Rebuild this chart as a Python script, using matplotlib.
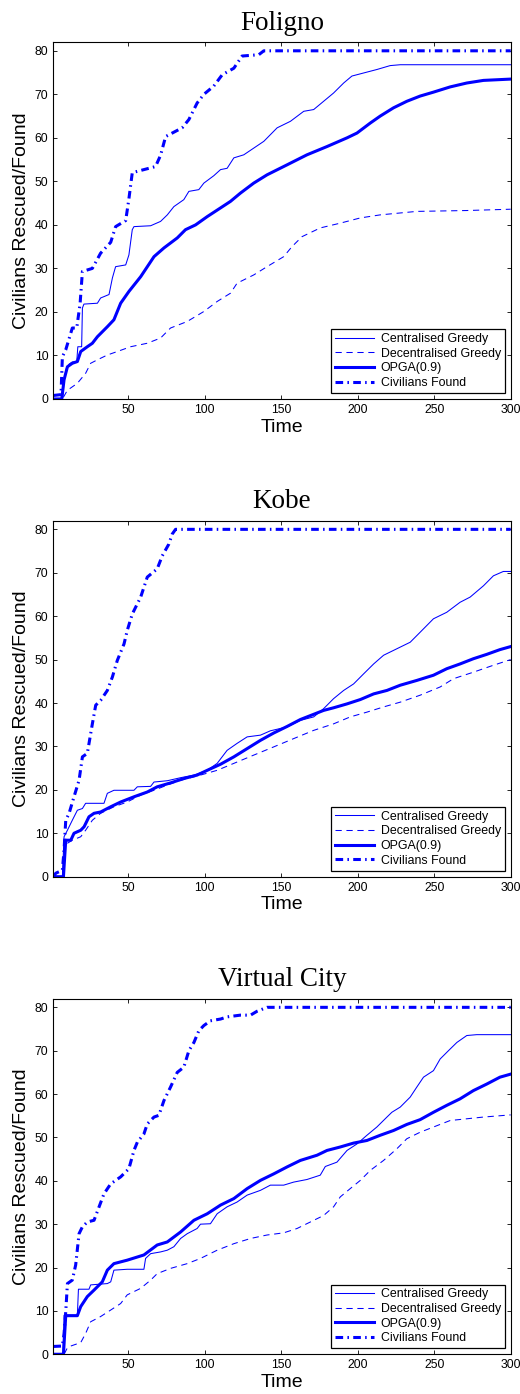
import matplotlib
matplotlib.use("Agg")
import matplotlib.pyplot as plt

# -----------------------
# Data
# -----------------------

panel_titles = ["Foligno", "Kobe", "Virtual City"]
series_labels = ["Centralised Greedy", "Decentralised Greedy", "OPGA(0.9)", "Civilians Found"]
x_ticks = [50, 100, 150, 200, 250, 300]
y_ticks = [0, 10, 20, 30, 40, 50, 60, 70, 80]

# Foligno
cg_foligno_t = [1, 6.9, 8.0, 9.5, 11.3, 13.4, 16.3, 17.0, 19.5, 20.0, 21.0, 29.8, 31.9, 37.4, 39.6, 41.7, 48.3, 50.4,
                52.6, 53.7, 64.6, 71.1, 75.5, 79.8, 86.3, 89.6, 96.1, 99.4, 105.9, 110.3, 114.6, 119.0, 125.5,
                138.6, 147.3, 156.0, 164.7, 171.2, 177.7, 184.2, 190.8, 196.2, 203.8, 212.5, 221.2, 227.8, 300]
cg_foligno_v = [0, 0, 4.4, 7.0, 8.0, 8.5, 8.6, 12.0, 12.0, 20.9, 21.8, 22.0, 23.2, 24.0, 27.8, 30.4, 30.8, 33.1,
                38.9, 39.6, 39.8, 40.8, 42.3, 44.2, 45.8, 47.7, 48.1, 49.6, 51.3, 52.7, 53.0, 55.4, 56.1,
                59.2, 62.3, 63.8, 66.1, 66.5, 68.4, 70.3, 72.6, 74.2, 74.9, 75.7, 76.6, 76.8, 76.8]
dg_foligno_t = [1, 6.9, 10.2, 16.7, 22.1, 25.4, 29.8, 36.3, 42.8, 51.5, 62.4, 71.1, 77.6, 88.5, 99.4, 108.1,
                116.8, 121.1, 132.0, 140.7, 151.6, 157.0, 163.6, 175.5, 188.6, 201.7, 214.7, 238.6, 271.3, 300]
dg_foligno_v = [0, 0, 2.0, 3.6, 5.9, 8.2, 9.0, 10.1, 10.9, 12.0, 12.8, 14.0, 16.3, 17.8, 20.1, 22.4,
                24.3, 26.6, 28.5, 30.4, 32.7, 35.0, 37.3, 39.3, 40.4, 41.6, 42.3, 43.1, 43.3, 43.6]
opga_foligno_t = [1, 6.5, 8.0, 10.2, 13.4, 16.7, 18.9, 23.2, 26.5, 29.8, 36.3, 40.6, 45.0, 50.4, 58.1, 66.8,
                  73.3, 82.0, 87.4, 94.0, 101.6, 110.3, 116.8, 123.3, 132.0, 140.7, 153.8, 166.8, 179.9, 193.0,
                  199.5, 208.2, 214.7, 223.4, 232.1, 240.8, 249.5, 260.4, 271.3, 282.2, 300]
opga_foligno_v = [0, 0, 4.4, 7.4, 8.2, 8.6, 10.9, 12.0, 12.8, 14.3, 16.6, 18.2, 22.0, 24.7, 28.1, 32.7,
                  34.7, 37.0, 38.9, 40.0, 41.9, 43.9, 45.4, 47.3, 49.6, 51.5, 53.8, 56.1, 58.0, 60.0,
                  61.1, 63.4, 65.0, 66.9, 68.4, 69.6, 70.5, 71.7, 72.6, 73.2, 73.5]
found_foligno_t = [1, 6.0, 6.9, 9.1, 13.4, 16.3, 18.5, 20.0, 26.5, 31.9, 38.5, 41.7, 48.3, 50.4, 52.6, 67.8,
                   71.1, 74.4, 85.2, 89.6, 95.0, 99.4, 105.9, 111.4, 119.0, 124.4, 135.3, 138.6, 300]
found_foligno_v = [0.8, 1.0, 9.7, 11.3, 16.3, 16.3, 22.0, 29.3, 30.0, 33.5, 36.0, 39.6, 41.0, 46.0, 52.0, 53.4,
                   56.0, 60.3, 62.3, 64.2, 68.0, 70.0, 71.9, 74.5, 76.0, 78.8, 79.1, 80, 80]

# Kobe
cg_kobe_t = [1, 6.9, 8.0, 10.2, 13.4, 16.7, 20.0, 22.1, 34.1, 36.3, 40.6, 53.7, 55.9, 64.6, 66.8, 75.5, 84.2,
             92.9, 101.6, 108.1, 114.6, 121.1, 127.7, 136.4, 142.9, 153.8, 162.5, 171.2, 177.7, 184.2, 190.8,
             197.3, 203.8, 210.4, 216.9, 225.6, 234.3, 240.8, 249.5, 258.2, 266.9, 273.5, 282.2, 288.7, 295.2, 300]
cg_kobe_v = [0, 0, 9.2, 10.7, 13.0, 15.3, 15.7, 16.9, 16.9, 19.2, 19.9, 19.9, 20.7, 20.8, 21.8, 22.1, 22.8,
             23.4, 24.5, 26.1, 29.1, 30.7, 32.2, 32.6, 33.6, 34.5, 36.0, 36.8, 38.7, 41.0, 42.9,
             44.4, 46.7, 49.0, 51.0, 52.5, 54.0, 56.3, 59.4, 60.9, 63.2, 64.4, 67.0, 69.3, 70.3, 70.3]
dg_kobe_t = [1, 6.9, 8.0, 10.2, 13.4, 18.9, 22.1, 26.5, 31.9, 40.6, 49.3, 58.1, 66.8, 75.5, 84.2, 97.2, 108.1,
             119.0, 132.0, 145.1, 158.1, 171.2, 184.2, 195.1, 206.0, 216.9, 227.8, 240.8, 253.9, 262.6, 275.6,
             288.7, 300]
dg_kobe_v = [0, 0, 6.9, 7.7, 8.4, 9.2, 10.7, 13.0, 14.6, 16.1, 17.2, 18.8, 19.9, 21.1, 22.2, 23.4, 24.5,
             26.1, 28.0, 29.9, 31.8, 33.7, 35.2, 36.8, 37.9, 39.1, 40.2, 41.8, 43.7, 45.6, 47.1,
             48.7, 50.0]
opga_kobe_t = [1, 7.6, 9.1, 12.4, 14.5, 18.9, 21.1, 24.3, 27.6, 31.9, 38.5, 45.0, 53.7, 62.4, 68.9, 77.6, 86.3,
               95.0, 101.6, 110.3, 119.0, 127.7, 136.4, 145.1, 153.8, 162.5, 171.2, 177.7, 184.2, 193.0, 201.7,
               210.4, 219.1, 227.8, 238.6, 249.5, 258.2, 266.9, 275.6, 284.3, 293.0, 300]
opga_kobe_v = [0, 0, 8.4, 8.4, 10.0, 10.7, 11.5, 13.8, 14.6, 14.9, 16.1, 17.2, 18.4, 19.5, 20.7, 21.6, 22.6,
               23.4, 24.5, 25.9, 27.6, 29.5, 31.4, 33.1, 34.6, 36.2, 37.4, 38.3, 38.9, 39.8, 40.8,
               42.1, 42.9, 44.1, 45.2, 46.4, 47.9, 49.0, 50.2, 51.2, 52.3, 53.0]
found_kobe_t = [1, 2.6, 6.9, 8.0, 9.1, 11.3, 14.5, 17.8, 20.0, 23.2, 26.5, 28.7, 31.9, 36.3, 39.6, 42.8, 47.2,
                49.3, 52.6, 58.1, 62.4, 68.9, 72.2, 76.5, 78.7, 80.9, 300]
found_kobe_v = [0, 0.8, 1.5, 6.1, 13.0, 14.6, 18.4, 22.2, 27.6, 28.4, 35.2, 39.5, 40.6, 42.9, 46.0, 49.8, 53.6,
                56.7, 60.5, 64.4, 69.0, 70.9, 73.9, 76.6, 78.9, 80, 80]

# Virtual City
cg_vc_t = [1, 7.3, 8.0, 16.7, 17.4, 24.3, 25.4, 36.3, 38.5, 40.6, 49.3, 60.2, 61.3, 64.6, 71.1, 75.5, 79.8,
           84.2, 88.5, 95.0, 97.2, 103.7, 108.1, 114.6, 121.1, 127.7, 136.4, 142.9, 151.6, 158.1, 166.8, 175.5,
           178.8, 186.4, 193.0, 199.5, 206.0, 212.5, 219.1, 222.3, 227.8, 234.3, 238.6, 243.0, 249.5, 253.9,
           259.3, 264.8, 271.3, 277.8, 300]
cg_vc_v = [0, 0, 9.0, 9.0, 15.0, 15.0, 16.0, 16.3, 16.7, 19.4, 19.6, 19.6, 22.1, 23.2, 23.6, 24.0, 24.8,
           26.7, 27.8, 29.0, 30.0, 30.1, 32.4, 34.0, 35.1, 36.7, 37.8, 39.0, 39.0, 39.7, 40.3, 41.3,
           43.3, 44.3, 47.0, 48.5, 50.5, 52.4, 54.7, 55.8, 57.0, 59.3, 61.6, 63.9, 65.4, 68.1,
           70.0, 71.9, 73.5, 73.7, 73.7]
dg_vc_t = [1, 8.0, 10.2, 12.4, 18.9, 22.1, 25.4, 31.9, 38.5, 45.0, 49.3, 58.1, 64.6, 68.9, 77.6, 88.5, 97.2,
           108.1, 119.0, 129.9, 140.7, 151.6, 160.3, 169.0, 177.7, 184.2, 188.6, 195.1, 201.7, 208.2, 216.9,
           225.6, 232.1, 240.8, 249.5, 260.4, 271.3, 282.2, 300]
dg_vc_v = [0, 0, 1.5, 1.9, 2.7, 4.8, 7.5, 8.7, 10.2, 11.7, 13.7, 15.2, 17.1, 18.6, 19.8, 20.9, 22.1,
           24.0, 25.5, 26.7, 27.5, 28.0, 29.0, 30.5, 32.0, 34.0, 36.3, 38.2, 40.1, 42.4, 44.7,
           47.4, 49.7, 51.2, 52.4, 53.9, 54.3, 54.7, 55.2]
opga_vc_t = [1, 7.6, 9.1, 16.7, 18.9, 23.2, 27.6, 33.0, 36.3, 40.6, 49.3, 60.2, 68.9, 75.5, 84.2, 92.9, 101.6,
             110.3, 119.0, 127.7, 136.4, 145.1, 153.8, 162.5, 173.4, 179.9, 188.6, 197.3, 206.0, 214.7, 223.4,
             232.1, 240.8, 249.5, 258.2, 266.9, 275.6, 284.3, 293.0, 300]
opga_vc_v = [0, 0, 8.9, 8.9, 11.0, 13.3, 14.8, 16.7, 19.4, 20.9, 21.7, 22.9, 25.2, 25.9, 28.2, 30.9, 32.4,
             34.4, 35.9, 38.2, 40.1, 41.6, 43.2, 44.7, 45.9, 47.0, 47.8, 48.7, 49.3, 50.5, 51.6,
             53.0, 54.1, 55.8, 57.4, 58.9, 60.8, 62.3, 63.9, 64.6]
found_vc_t = [1, 6.9, 8.0, 9.1, 10.2, 13.4, 15.6, 17.8, 20.0, 23.2, 27.6, 30.9, 34.1, 38.5, 45.0, 50.4, 53.7,
              55.9, 60.2, 62.4, 66.8, 70.0, 73.3, 77.6, 82.0, 86.3, 89.6, 92.9, 96.1, 99.4, 103.7, 110.3,
              114.6, 123.3, 129.9, 134.2, 140.7, 300]
found_vc_v = [1.8, 1.9, 4.8, 9.8, 16.3, 17.1, 20.6, 27.8, 29.4, 30.5, 30.9, 34.0, 37.0, 39.3, 40.9, 42.8, 47.0,
              48.9, 50.8, 53.1, 54.7, 55.1, 58.5, 61.6, 65.0, 66.2, 70.0, 71.9, 74.6, 75.8, 76.9, 77.3,
              77.8, 78.2, 78.2, 79.1, 80, 80]

# -----------------------
# Plotting
# -----------------------

BLUE = "#0000ff"
SANS = "Liberation Sans"
SERIF = "Liberation Serif"

plt.rcParams["font.family"] = [SANS, "DejaVu Sans"]


def draw_panel(ax, title, series):
    (cg_t, cg_v), (dg_t, dg_v), (op_t, op_v), (fd_t, fd_v) = series
    ax.plot(cg_t, cg_v, color=BLUE, lw=0.75, label=series_labels[0])
    ax.plot(dg_t, dg_v, color=BLUE, lw=0.75, dashes=(6, 4.5), label=series_labels[1])
    ax.plot(op_t, op_v, color=BLUE, lw=2.2, label=series_labels[2])
    ax.plot(fd_t, fd_v, color=BLUE, lw=2.2, dashes=(2.5, 1.4, 0.5, 1.4), label=series_labels[3])

    ax.set_xlim(1, 300)
    ax.set_ylim(0, 82)
    ax.set_xticks(x_ticks)
    ax.set_yticks(y_ticks)
    ax.tick_params(direction="in", length=3, width=0.6, labelsize=8.8, top=True, right=True,
                   colors="black", pad=3.5)
    for sp in ax.spines.values():
        sp.set_linewidth(0.8)

    ax.set_title(title, family=SERIF, fontsize=19.5, pad=9)
    ax.set_xlabel("Time", fontsize=14, labelpad=2)
    ax.set_ylabel("Civilians Rescued/Found", fontsize=14)
    ax.yaxis.set_label_coords(-0.051, 0.5)

    leg = ax.legend(loc="lower right", fontsize=8.9, handlelength=3.2, handletextpad=0.5,
                    labelspacing=0.22, borderpad=0.3, borderaxespad=0.5, fancybox=False,
                    framealpha=1, edgecolor="black")
    leg.get_frame().set_linewidth(0.9)


def main():
    fig = plt.figure(figsize=(5.2, 13.94), dpi=100)

    data = [
        [(cg_foligno_t, cg_foligno_v), (dg_foligno_t, dg_foligno_v),
         (opga_foligno_t, opga_foligno_v), (found_foligno_t, found_foligno_v)],
        [(cg_kobe_t, cg_kobe_v), (dg_kobe_t, dg_kobe_v),
         (opga_kobe_t, opga_kobe_v), (found_kobe_t, found_kobe_v)],
        [(cg_vc_t, cg_vc_v), (dg_vc_t, dg_vc_v),
         (opga_vc_t, opga_vc_v), (found_vc_t, found_vc_v)],
    ]
    # axes boxes in figure fractions [left, bottom, width, height]
    boxes = [
        [0.1026, 0.7138, 0.8795, 0.2560],
        [0.1026, 0.3711, 0.8795, 0.2554],
        [0.1026, 0.0285, 0.8795, 0.2551],
    ]

    for title, series, box in zip(panel_titles, data, boxes):
        ax = fig.add_axes(box)
        draw_panel(ax, title, series)

    fig.savefig("out.png", dpi=100)
    plt.close(fig)


if __name__ == "__main__":
    main()
